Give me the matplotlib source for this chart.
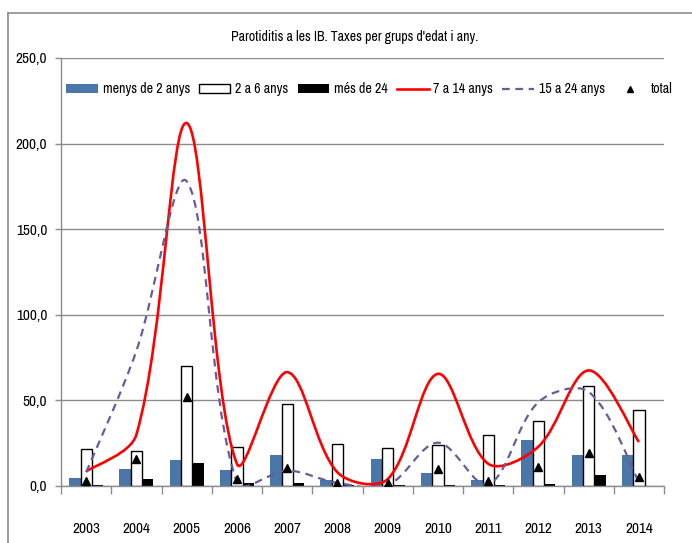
import numpy as np
import matplotlib
matplotlib.use("Agg")
import matplotlib.pyplot as plt
from matplotlib import font_manager
from matplotlib.path import Path
from matplotlib.patches import PathPatch, Patch
from matplotlib.lines import Line2D
from matplotlib.ticker import FuncFormatter, FixedLocator

# ================= DATA =================
years = ["2003", "2004", "2005", "2006", "2007", "2008",
         "2009", "2010", "2011", "2012", "2013", "2014"]
menys_2 = [4.5, 10.1, 15.0, 9.2, 18.3, 3.3, 16.0, 7.6, 3.5, 26.7, 18.3, 18.3]
de_2_a_6 = [21.4, 20.6, 70.1, 23.0, 47.7, 24.5, 22.2, 23.8, 29.6, 38.0, 58.4, 44.4]
mes_24 = [0.5, 4.3, 13.2, 1.8, 1.8, 0.5, 0.5, 0.6, 0.6, 1.4, 6.6, 0.0]
de_7_a_14 = [8.5, 30.0, 212.0, 13.0, 66.5, 8.0, 4.0, 65.5, 13.0, 23.0, 67.5, 25.7]
de_15_a_24 = [8.0, 79.0, 178.0, 2.0, 9.0, 1.8, 0.4, 25.3, 0.8, 49.0, 55.0, 2.3]
total = [3.0, 16.0, 52.0, 4.0, 10.5, 2.0, 2.0, 10.0, 3.0, 11.0, 19.5, 5.0]

labels = ["menys de 2 anys", "2 a 6 anys", "més de 24",
          "7 a 14 anys", "15 a 24 anys", "total"]

# ================= FONT =================
installed = {f.name for f in font_manager.fontManager.ttflist}
narrow = "DejaVu Sans"
for cand in ["Liberation Sans Narrow", "Archivo Narrow", "PT Sans Narrow"]:
    if cand in installed:
        narrow = cand
        break
plt.rcParams["font.family"] = [narrow, "DejaVu Sans"]

BLUE = "#4A76AA"
PURPLE = "#6A5A9A"
GRAY = "#8C8C8C"


# ================= SMOOTH LINE (excel style bezier, done in pixels) =================
def smooth_path(ax, xs, ys):
    pts = ax.transData.transform(np.column_stack([xs, ys]).astype(float))
    n = len(pts)
    verts = [pts[0]]
    codes = [Path.MOVETO]
    for i in range(n - 1):
        p0 = pts[max(i - 1, 0)]
        p1 = pts[i]
        p2 = pts[i + 1]
        p3 = pts[min(i + 2, n - 1)]
        d01 = np.hypot(*(p1 - p0))
        d12 = np.hypot(*(p2 - p1))
        d23 = np.hypot(*(p3 - p2))
        # arm lengths follow the neighbouring segment lengths
        a = d12 / (d01 + d12) / 3.0 if d01 > 0 else 1 / 6.0
        b = d12 / (d12 + d23) / 3.0 if d23 > 0 else 1 / 6.0
        c1 = p1 + (p2 - p0) * a
        c2 = p2 - (p3 - p1) * b
        verts += [c1, c2, p2]
        codes += [Path.CURVE4] * 3
    verts = ax.transData.inverted().transform(np.array(verts))
    return Path(verts, codes)


# ================= CHART =================
fig = plt.figure(figsize=(6.92, 5.43), dpi=100)
ax = fig.add_axes([0.0882, 0.105, 0.8714, 0.7882])

x = np.arange(len(years))
w = 0.225

ax.set_xlim(-0.5, len(years) - 0.5)
ax.set_ylim(0, 250)

ax.bar(x - w, menys_2, w, color=BLUE, zorder=2)
ax.bar(x, de_2_a_6, w, color="white", edgecolor="black", linewidth=1.0, zorder=2)
ax.bar(x + w, mes_24, w, color="black", zorder=2)

ax.add_patch(PathPatch(smooth_path(ax, x, de_7_a_14), fill=False, edgecolor="#FF0000",
                       linewidth=1.9, transform=ax.transData, zorder=3))
ax.add_patch(PathPatch(smooth_path(ax, x, de_15_a_24), fill=False, edgecolor=PURPLE,
                       linewidth=1.6, linestyle=(0, (3.5, 2.5)),
                       transform=ax.transData, zorder=3))

ax.plot(x, total, linestyle="none", marker="^", markersize=6, color="black", zorder=4)

ax.set_yticks(np.arange(0, 251, 50))
ax.yaxis.set_major_formatter(FuncFormatter(lambda v, p: f"{v:.1f}".replace(".", ",")))
ax.grid(axis="y", color=GRAY, linewidth=1.0, zorder=0)
ax.set_axisbelow(True)

# year labels at centers, tick marks at group borders
ax.xaxis.set_major_locator(FixedLocator(np.arange(-0.5, len(years), 1.0)))
ax.xaxis.set_major_formatter(FuncFormatter(lambda v, p: ""))
ax.xaxis.set_minor_locator(FixedLocator(x))
ax.set_xticklabels(years, minor=True)
ax.tick_params(axis="x", which="major", length=6, width=1, color=GRAY, direction="out")
ax.tick_params(axis="x", which="minor", length=0, pad=26, labelsize=11)
ax.tick_params(axis="y", length=4, width=1, color=GRAY, pad=6, labelsize=11)

for side in ["top", "right"]:
    ax.spines[side].set_visible(False)
for side in ["left", "bottom"]:
    ax.spines[side].set_color(GRAY)
    ax.spines[side].set_linewidth(1.0)

handles = [
    Patch(facecolor=BLUE, edgecolor="none"),
    Patch(facecolor="white", edgecolor="black", linewidth=1.0),
    Patch(facecolor="black", edgecolor="none"),
    Line2D([], [], color="#FF0000", linewidth=1.9),
    Line2D([], [], color=PURPLE, linewidth=1.6, linestyle=(0, (3.5, 2.5))),
    Line2D([], [], linestyle="none", marker="^", markersize=4.5, color="black"),
]
ax.legend(handles, labels, loc="center left", bbox_to_anchor=(-0.001, 0.927),
          ncol=6, frameon=False, fontsize=10.1, handlelength=2.25, handleheight=0.6,
          handletextpad=0.35, columnspacing=0.65, borderaxespad=0)

fig.text(0.513, 0.932, "Parotiditis a les IB. Taxes per grups d'edat i any.",
         ha="center", va="center", fontsize=10)

# outer chart frame
fig.add_artist(Line2D([0.012, 0.012], [0.0, 0.976], color=GRAY, linewidth=1.2,
                      transform=fig.transFigure))
fig.add_artist(Line2D([0.012, 1.0], [0.976, 0.976], color=GRAY, linewidth=1.2,
                      transform=fig.transFigure))

fig.savefig("out.png", dpi=100)
